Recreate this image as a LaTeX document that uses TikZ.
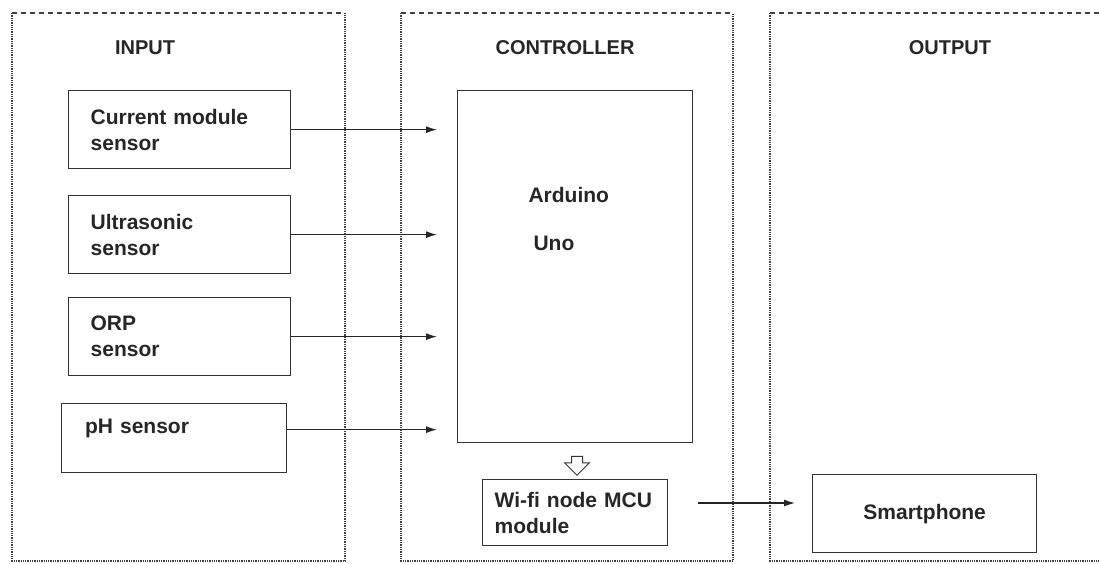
\documentclass[tikz,border=0pt]{standalone}
\usepackage{fontspec}
\setmainfont{Liberation Sans}
\usetikzlibrary{arrows.meta,positioning,calc,shapes.arrows}

\begin{document}
\begin{tikzpicture}[x=1pt,y=-1pt,
  every node/.style={font=\fontsize{21}{26}\selectfont\bfseries,text=black!85},
  title/.style={font=\fontsize{20}{24}\selectfont\bfseries},
  paneltop/.style={black!75,line width=1.2pt,dash pattern=on 5pt off 4pt},
  panelside/.style={black!75,line width=1.3pt,densely dotted},
  sensorbox/.style={draw=black!80,line width=1.3pt,anchor=north west,minimum width=222pt,minimum height=78pt,text width=178pt,inner xsep=22pt,align=left},
  flow/.style={-{Latex[length=11pt,width=7pt]},line width=1.3pt,black!85}]
  \useasboundingbox (0,0) rectangle (1099,563);

  % panels
  \draw[paneltop] (12,13) -- (345,13);
  \draw[panelside] (12,13) -- (12,561) -- (345,561) -- (345,13);
  \draw[paneltop] (401,13) -- (733,13);
  \draw[panelside] (401,13) -- (401,561) -- (733,561) -- (733,13);
  \draw[paneltop] (770,13) -- (1099,13);
  \draw[panelside] (770,13) -- (770,561) -- (1099,561);

  \node[title] (tin) at (145,48) {INPUT};
  \node[title] (tctl) at (565,48) {CONTROLLER};
  \node[title] (tout) at (950,48) {OUTPUT};

  % input side
  \node[sensorbox] (cur) at (68,90) {Current module\\sensor};
  \node[sensorbox] (ultra) at (68,195) {Ultrasonic\\sensor};
  \node[sensorbox] (orp) at (68,297) {ORP\\sensor};
  \node[sensorbox,minimum width=225pt,minimum height=69pt,inner ysep=6pt,text height=24pt,text depth=33pt] (ph) at (61,403) {pH sensor};

  % controller
  \node[draw=black!80,line width=1.3pt,anchor=north west,minimum width=235pt,minimum height=352pt] (arduino) at (457,90) {};
  \node[anchor=base west,align=left] (arduinotxt) at (525,250) {Arduino\\[22pt]\hspace*{5pt}Uno};
  \node[draw=black!80,line width=1.3pt,anchor=north west,minimum width=185pt,minimum height=66pt,text width=161pt,inner xsep=12pt,align=left] (wifi) at (482,479) {Wi-fi node MCU\\module};
  \node[single arrow,draw=black!80,line width=1pt,shape border rotate=270,inner sep=5pt,single arrow head extend=7pt,minimum height=19pt] (down) at (577,463) {};

  % output
  \node[draw=black!80,line width=1.3pt,anchor=north west,minimum width=224pt,minimum height=78pt] (phone) at (812,474) {Smartphone};
  \coordinate (wout) at (698,503);

  \draw[flow,shorten >=20pt] (cur.east) -- (cur.east -| arduino.west);
  \draw[flow,shorten >=20pt] (ultra.east) -- (ultra.east -| arduino.west);
  \draw[flow,shorten >=20pt] (orp.east) -- (orp.east -| arduino.west);
  \draw[flow,shorten >=20pt] ([yshift=8.5pt]ph.east) -- ([yshift=8.5pt]ph.east -| arduino.west);
  \draw[flow,shorten >=17pt] (wout) -- (wout -| phone.west);
\end{tikzpicture}
\end{document}
